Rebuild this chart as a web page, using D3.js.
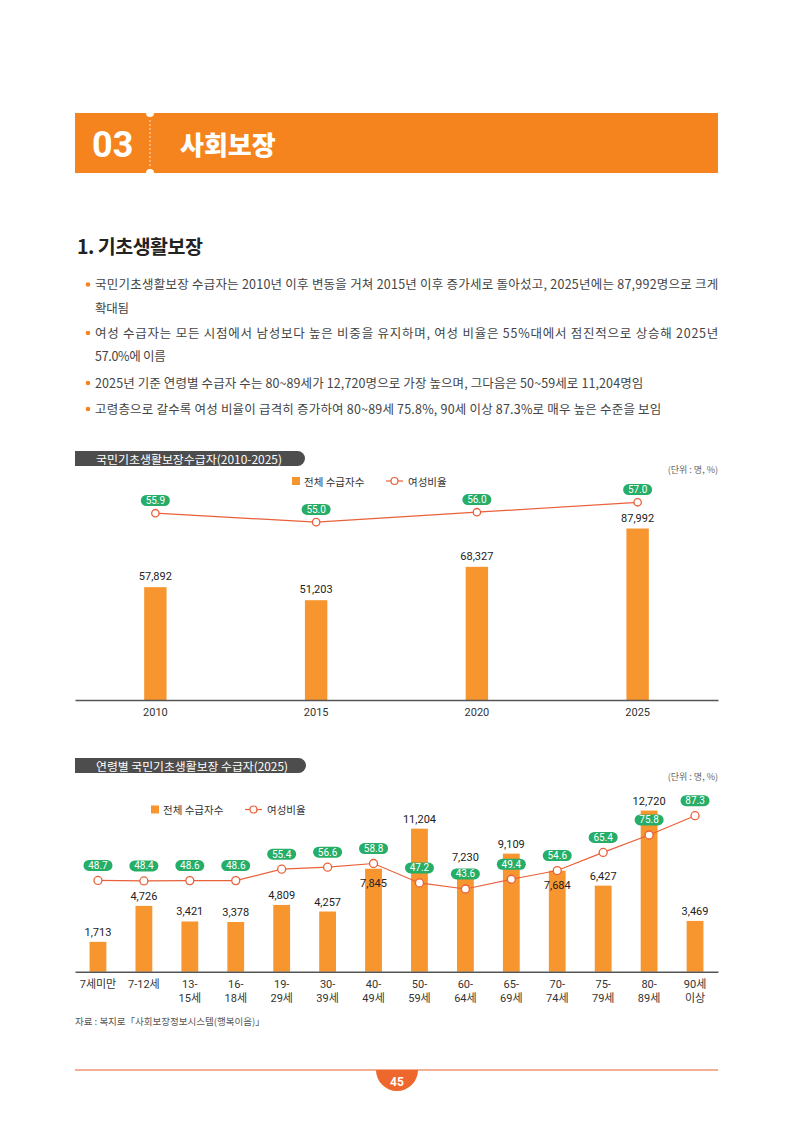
<html>
  <head>
    <title>사회보장</title>
    <meta charset="utf-8" />
    <script src="https://cdnjs.cloudflare.com/ajax/libs/d3/7.8.5/d3.min.js"></script>
    <style>
      body { margin: 0; background: #fff; }
      svg { display: block; }
      text { font-family: "Noto Sans CJK KR", sans-serif; }
      .num { font-family: Roboto, "Noto Sans CJK KR", sans-serif; }
    </style>
  </head>
  <body>
    <svg id="page" width="794" height="1123"></svg>
  </body>

  <script>
    // ---- data ----
    const years = ["2010", "2015", "2020", "2025"];
    const totalByYear = [57892, 51203, 68327, 87992];
    const femaleRateByYear = [55.9, 55.0, 56.0, 57.0];

    const ageGroups = ["7세미만", "7-12세", "13-15세", "16-18세", "19-29세", "30-39세", "40-49세",
      "50-59세", "60-64세", "65-69세", "70-74세", "75-79세", "80-89세", "90세이상"];
    const ageTickLabels = [["7세미만"], ["7-12세"], ["13-", "15세"], ["16-", "18세"], ["19-", "29세"],
      ["30-", "39세"], ["40-", "49세"], ["50-", "59세"], ["60-", "64세"], ["65-", "69세"],
      ["70-", "74세"], ["75-", "79세"], ["80-", "89세"], ["90세", "이상"]];
    const ageTotals = [1713, 4726, 3421, 3378, 4809, 4257, 7845, 11204, 7230, 9109, 7684, 6427, 12720, 3469];
    const ageFemaleRate = [48.7, 48.4, 48.6, 48.6, 55.4, 56.6, 58.8, 47.2, 43.6, 49.4, 54.6, 65.4, 75.8, 87.3];

    const bulletLines = [
      ["국민기초생활보장 수급자는 2010년 이후 변동을 거쳐 2015년 이후 증가세로 돌아섰고, 2025년에는 87,992명으로 크게", "확대됨"],
      ["여성 수급자는 모든 시점에서 남성보다 높은 비중을 유지하며, 여성 비율은 55%대에서 점진적으로 상승해 2025년", "57.0%에 이름"],
      ["2025년 기준 연령별 수급자 수는 80~89세가 12,720명으로 가장 높으며, 그다음은 50~59세로 11,204명임"],
      ["고령층으로 갈수록 여성 비율이 급격히 증가하여 80~89세 75.8%, 90세 이상 87.3%로 매우 높은 수준을 보임"]
    ];

    const orange = "#F5841F";
    const barColor = "#F7952F";
    const lineColor = "#E9603A";
    const green = "#26AD68";

    const svg = d3.select("#page");

    // ---- page header ----
    svg.append("rect").attr("x", 75).attr("y", 113).attr("width", 643).attr("height", 60).attr("fill", orange);
    svg.append("circle").attr("cx", 150).attr("cy", 113).attr("r", 4).attr("fill", "#fff");
    svg.append("circle").attr("cx", 150).attr("cy", 173).attr("r", 4).attr("fill", "#fff");
    svg.append("line").attr("x1", 150).attr("x2", 150).attr("y1", 120).attr("y2", 166)
      .attr("stroke", "#fde3c8").attr("stroke-dasharray", "2,2");
    svg.append("text").attr("class", "num").attr("x", 92).attr("y", 157)
      .attr("font-size", 36).attr("font-weight", 700).attr("fill", "#fff").text("03");
    svg.append("text").attr("x", 180).attr("y", 143).attr("dominant-baseline", "central")
      .attr("font-size", 26).attr("font-weight", 900).attr("fill", "#fff").text("사회보장");

    svg.append("text").attr("x", 77).attr("y", 245).attr("dominant-baseline", "central")
      .attr("font-size", 19.5).attr("font-weight", 700).attr("fill", "#222").attr("letter-spacing", -0.5)
      .text("1. 기초생활보장");

    // ---- bullets ----
    const lineYs = [[283.5, 307], [332, 355], [382], [408]];
    const lineLen = [[623, null], [623, null], [548], [566]];
    bulletLines.forEach((lines, i) => {
      svg.append("circle").attr("cx", 88).attr("cy", lineYs[i][0] + 1).attr("r", 2.3).attr("fill", orange);
      lines.forEach((t, j) => {
        const el = svg.append("text").attr("x", 95).attr("y", lineYs[i][j])
          .attr("dominant-baseline", "central").attr("font-size", 12.5).attr("fill", "#444")
          .attr("letter-spacing", -0.3).text(t);
        if (lineLen[i][j]) el.attr("textLength", lineLen[i][j]).attr("lengthAdjust", "spacing");
      });
    });

    // ---- shared helpers ----
    function titlePill(y, w, label, textLen) {
      svg.append("path")
        .attr("d", `M75,${y}H${75 + w - 7.5}A7.5,7.5 0 0 1 ${75 + w - 7.5},${y + 15}H75Z`)
        .attr("fill", "#4d4d4d");
      svg.append("text").attr("x", 96).attr("y", y + 7.5).attr("dominant-baseline", "central")
        .attr("font-size", 11.5).attr("font-weight", 400).attr("fill", "#fff")
        .attr("textLength", textLen).attr("lengthAdjust", "spacingAndGlyphs").text(label);
    }
    function unitNote(y) {
      svg.append("text").attr("x", 718).attr("y", y).attr("text-anchor", "end")
        .attr("dominant-baseline", "central").attr("font-size", 9).attr("fill", "#666")
        .text("(단위 : 명, %)");
    }
    function legend(x, y) {
      const g = svg.append("g").attr("transform", `translate(${x},${y})`);
      g.append("rect").attr("x", 0).attr("y", -4).attr("width", 8).attr("height", 8).attr("fill", barColor);
      g.append("text").attr("x", 12).attr("y", 0).attr("dominant-baseline", "central")
        .attr("font-size", 10.5).attr("fill", "#333").text("전체 수급자수");
      g.append("line").attr("x1", 94).attr("x2", 111).attr("y1", 0).attr("y2", 0)
        .attr("stroke", lineColor).attr("stroke-width", 1.2);
      g.append("circle").attr("cx", 102.5).attr("cy", 0).attr("r", 3.5)
        .attr("fill", "#fff").attr("stroke", lineColor).attr("stroke-width", 1.2);
      g.append("text").attr("x", 116).attr("y", 0).attr("dominant-baseline", "central")
        .attr("font-size", 10.5).attr("fill", "#333").text("여성비율");
    }
    function rateMarks(g, cats, rates, x, y, r, pillGap) {
      const cx = (d, i) => x(cats[i]) + x.bandwidth() / 2;
      g.append("path").datum(rates)
        .attr("d", d3.line().x((d, i) => cx(d, i)).y((d) => y(d)))
        .attr("fill", "none").attr("stroke", lineColor).attr("stroke-width", 1.2);
      g.selectAll("circle.rate").data(rates).join("circle").attr("class", "rate")
        .attr("cx", cx).attr("cy", (d) => y(d)).attr("r", r)
        .attr("fill", "#fff").attr("stroke", lineColor).attr("stroke-width", 1.3);
      const pills = g.selectAll("g.pill").data(rates).join("g").attr("class", "pill")
        .attr("transform", (d, i) => `translate(${cx(d, i)},${y(d) - pillGap})`);
      pills.append("rect").attr("x", -14.5).attr("y", -5.5).attr("width", 29).attr("height", 11)
        .attr("rx", 5.5).attr("fill", green);
      pills.append("text").attr("class", "num").attr("text-anchor", "middle")
        .attr("dominant-baseline", "central").attr("font-size", 10).attr("fill", "#fff")
        .text((d) => d.toFixed(1));
    }

    // ---- chart 1 ----
    titlePill(451, 230, "국민기초생활보장수급자(2010-2025)", 186);
    unitNote(469);
    legend(292, 481);

    const x1 = d3.scaleBand().domain(years).range([75, 718]);
    const y1 = d3.scaleLinear().domain([0, 100000]).range([700, 505.1]);
    const r1 = d3.scaleLinear().domain([50, 60]).range([571.8, 472.5]);
    const c1 = svg.append("g");

    c1.selectAll("rect.bar").data(totalByYear).join("rect").attr("class", "bar")
      .attr("x", (d, i) => x1(years[i]) + x1.bandwidth() / 2 - 11.2)
      .attr("width", 22.4)
      .attr("y", (d) => y1(d))
      .attr("height", (d) => 700 - y1(d))
      .attr("fill", barColor);
    c1.selectAll("text.val").data(totalByYear).join("text").attr("class", "val num")
      .attr("x", (d, i) => x1(years[i]) + x1.bandwidth() / 2)
      .attr("y", (d) => y1(d) - 7)
      .attr("text-anchor", "middle").attr("font-size", 11).attr("fill", "#222")
      .text((d) => d3.format(",")(d));

    const ax1 = svg.append("g").attr("transform", "translate(0,700)")
      .call(d3.axisBottom(x1).tickSize(0).tickPadding(8));
    ax1.select(".domain").attr("stroke", "#555").attr("stroke-width", 1.5);
    ax1.selectAll("text").attr("class", "num").attr("font-size", 11).attr("fill", "#333");

    rateMarks(c1, years, femaleRateByYear, x1, r1, 3.7, 12.7);

    // ---- chart 2 ----
    titlePill(758, 231, "연령별 국민기초생활보장 수급자(2025)", 192);
    unitNote(776);
    legend(151, 809.5);

    const base2 = 971.7;
    const x2 = d3.scaleBand().domain(ageGroups).range([75, 718]);
    const y2 = d3.scaleLinear().domain([0, 14000]).range([962.3, 795.3]);
    const r2 = d3.scaleLinear().domain([0, 100]).range([962.1, 794.4]);
    const c2 = svg.append("g");

    // labels that would collide with the rate line are moved
    const labelShift = { "40-49세": 18, "70-74세": 18, "60-64세": -15 };

    c2.selectAll("rect.bar").data(ageTotals).join("rect").attr("class", "bar")
      .attr("x", (d, i) => x2(ageGroups[i]) + x2.bandwidth() / 2 - 8.4)
      .attr("width", 16.8)
      .attr("y", (d) => y2(d))
      .attr("height", (d) => base2 - y2(d))
      .attr("fill", barColor);
    c2.selectAll("text.val").data(ageTotals).join("text").attr("class", "val num")
      .attr("x", (d, i) => x2(ageGroups[i]) + x2.bandwidth() / 2)
      .attr("y", (d, i) => y2(d) + (labelShift[ageGroups[i]] ?? -6))
      .attr("text-anchor", "middle").attr("font-size", 11).attr("fill", "#222")
      .text((d) => d3.format(",")(d));

    const ax2 = svg.append("g").attr("transform", `translate(0,${base2})`)
      .call(d3.axisBottom(x2).tickSize(0).tickPadding(9));
    ax2.select(".domain").attr("stroke", "#555").attr("stroke-width", 1.5);
    ax2.selectAll(".tick text").each(function (d, i) {
      const t = d3.select(this).attr("class", "num").attr("font-size", 11).attr("fill", "#333").text(null);
      ageTickLabels[i].forEach((s, j) => {
        t.append("tspan").attr("x", 0).attr("dy", j === 0 ? "0.71em" : "1.25em").text(s);
      });
    });

    rateMarks(c2, ageGroups, ageFemaleRate, x2, r2, 4, 15);

    svg.append("text").attr("x", 75).attr("y", 1021).attr("dominant-baseline", "central")
      .attr("font-size", 9.5).attr("fill", "#555").text("자료 : 복지로「사회보장정보시스템(행복이음)」");

    // ---- footer ----
    svg.append("line").attr("x1", 75).attr("x2", 718).attr("y1", 1070).attr("y2", 1070)
      .attr("stroke", "#E8602C").attr("stroke-width", 1);
    svg.append("path").attr("d", "M376,1070A21,21 0 0 0 418,1070Z").attr("fill", "#EE672C");
    svg.append("text").attr("class", "num").attr("x", 397).attr("y", 1082).attr("text-anchor", "middle")
      .attr("dominant-baseline", "central").attr("font-size", 12).attr("font-weight", 700)
      .attr("fill", "#fff").text("45");
  </script>
</html>
